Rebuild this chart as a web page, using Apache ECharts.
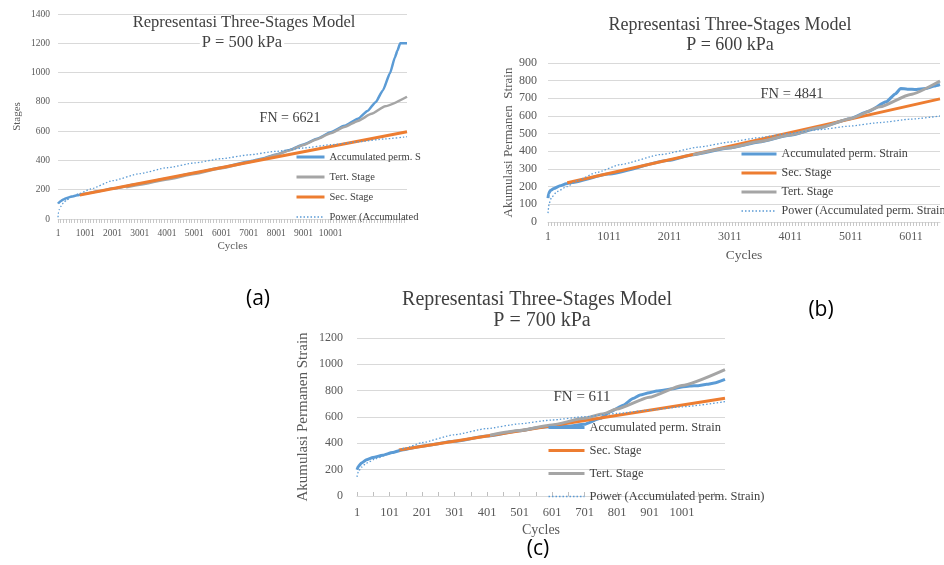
<!DOCTYPE html>
<html><head><meta charset="utf-8">
<script src="https://cdn.jsdelivr.net/npm/echarts@6/dist/echarts.min.js"></script>
<style>html,body{margin:0;padding:0;background:#fff}#c{width:944px;height:565px}</style>
</head><body><div id="c"></div>
<script>
// ---------- names ----------
const NAME_ACC = 'Accumulated perm. Strain';
const NAME_SEC = 'Sec. Stage';
const NAME_TERT = 'Tert. Stage';
const NAME_POW = 'Power (Accumulated perm. Strain)';

// ---------- chart (a) P = 500 kPa ----------
const xLabelsA = [1, 1001, 2001, 3001, 4001, 5001, 6001, 7001, 8001, 9001, 10001];
const yTicksA = [0, 200, 400, 600, 800, 1000, 1200, 1400];
const accA = [[1,105],[50,115],[100,122],[200,133],[300,142],[500,153],[700,162],[900,170],[1500,190],[2000,208],[3000,240],[4000,276],[5000,314],[6000,352],[7000,392],[7500,413],[8000,440],[8500,472],[9000,508],[9500,548],[10000,592],[10500,636],[11000,685],[11350,738],[11650,798],[11920,880],[12175,995],[12360,1105],[12450,1150],[12550,1200],[12800,1200]];
const tertA = [[2500,216],[3000,234],[4000,270],[5000,307],[6000,347],[7000,388],[7500,410],[8000,438],[8500,470],[9000,506],[9500,545],[10000,586],[10500,628],[11000,670],[11500,718],[12000,770],[12800,835]];
const secA = [[800,164],[12800,596]];
const powA = [[1,12],[20,45],[50,65],[100,85],[200,110],[320,130],[500,150],[800,175],[1200,205],[2000,262],[3000,310],[4000,350],[5000,383],[6000,412],[7000,438],[8000,462],[9000,485],[10000,507],[11000,527],[12000,547],[12800,562]];

// ---------- chart (b) P = 600 kPa ----------
const xLabelsB = [1, 1011, 2011, 3011, 4011, 5011, 6011];
const yTicksB = [0, 100, 200, 300, 400, 500, 600, 700, 800, 900];
const accB = [[1,135],[10,160],[40,178],[100,190],[200,205],[300,216],[400,224],[1000,271],[2000,349],[2400,381],[3000,419],[3500,453],[4000,491],[4500,534],[5000,585],[5300,625],[5600,680],[5750,725],[5840,756],[5950,752],[6100,750],[6250,755],[6400,770],[6490,778]];
const secB = [[320,222],[6490,697]];
const tertB = [[2400,380],[3000,420],[3500,455],[4000,493],[4500,535],[5000,585],[5500,652],[6000,722],[6490,798]];
const powB = [[1,50],[20,105],[60,140],[150,172],[312,200],[500,237],[800,280],[1200,325],[1870,382],[2500,424],[3000,452],[3500,478],[4000,502],[4500,523],[5000,543],[5500,563],[6000,582],[6490,600]];

// ---------- chart (c) P = 700 kPa ----------
const xLabelsC = [1, 101, 201, 301, 401, 501, 601, 701, 801, 901, 1001];
const yTicksC = [0, 200, 400, 600, 800, 1000, 1200];
const accC = [[1,200],[5,225],[15,250],[30,275],[50,292],[80,310],[110,330],[140,350],[200,378],[300,415],[400,455],[500,495],[560,520],[600,528],[650,530],[700,545],[750,590],[780,640],[820,690],[850,740],[872,767],[900,785],[923,797],[974,815],[1000,828],[1025,835],[1050,838],[1077,848],[1100,858],[1133,885]];
const secC = [[130,350],[1133,742]];
const tertC = [[410,462],[500,497],[600,540],[700,590],[760,625],[800,660],[900,750],[1000,840],[1133,960]];
const powC = [[1,145],[5,185],[15,220],[30,250],[60,285],[100,320],[150,365],[200,405],[300,465],[400,512],[500,548],[600,577],[700,602],[800,627],[900,652],[1000,677],[1133,716]];

// ---------- styles ----------
const BLUE = '#5b9bd5', ORANGE = '#ed7d31', GRAY = '#a5a5a5', DOT = '#5b9bd5';
const SERIF = '"Liberation Serif", "DejaVu Serif", serif';
const TXT = '#595959';
const plain = v => String(v);

function hatch(max, step) { const a = []; for (let v = 1; v <= max; v += step) a.push(v); return a; }

function xAxisDef(gi, max, labels, hatchStep, fs, margin, nameGap, nameFs, tickStyle) {
  return {
    type: 'value', gridIndex: gi, min: 1, max: max,
    name: 'Cycles', nameLocation: 'middle', nameGap: nameGap,
    nameTextStyle: { fontFamily: SERIF, fontSize: nameFs, color: TXT },
    axisLine: { show: true, lineStyle: { color: '#d9d9d9', width: 1 } },
    axisTick: Object.assign({ show: true, customValues: hatch(max, hatchStep) }, tickStyle),
    axisLabel: { customValues: labels, formatter: plain, fontFamily: SERIF, fontSize: fs, color: TXT, margin: margin },
    splitLine: { show: false }
  };
}
function yAxisDef(gi, ticks, name, fs, margin, nameGap, nameFs) {
  return {
    type: 'value', gridIndex: gi, min: ticks[0], max: ticks[ticks.length - 1], interval: ticks[1] - ticks[0],
    name: name, nameLocation: 'middle', nameGap: nameGap,
    nameTextStyle: { fontFamily: SERIF, fontSize: nameFs, color: TXT },
    axisLine: { show: false }, axisTick: { show: false },
    axisLabel: { formatter: plain, fontFamily: SERIF, fontSize: fs, color: TXT, margin: margin },
    splitLine: { show: true, lineStyle: { color: '#d9d9d9', width: 1 } }
  };
}
function line(name, gi, data, color, width, dotted) {
  return {
    type: 'line', name: name, xAxisIndex: gi, yAxisIndex: gi, data: data,
    showSymbol: false, symbol: 'none', smooth: 0.18, smoothMonotone: 'x',
    lineStyle: { color: color, width: width, type: dotted ? [1.5, 2] : 'solid' },
    itemStyle: { color: color }, animation: false, silent: true
  };
}
function legendDef(order, left, top, fs, iw, gap, lh, textWidth) {
  const ts = { fontFamily: SERIF, fontSize: fs, color: '#404040', lineHeight: lh };
  if (textWidth) { ts.width = textWidth; ts.overflow = 'truncate'; ts.ellipsis = ''; }
  return {
    orient: 'vertical', left: left, top: top, selectedMode: false,
    data: order.map(n => ({ name: n, lineStyle: { width: n === NAME_POW ? 1.3 : 3 } })),
    itemWidth: iw, itemHeight: 8, itemGap: gap, textStyle: ts, padding: 0,
    itemStyle: { opacity: 0 }
  };
}
function txt(text, x, y, size, fam, color, bg) {
  const st = { text: text, fontSize: size, fontFamily: fam || SERIF, fill: color || '#404040',
      align: 'center', verticalAlign: 'middle', textAlign: 'center', textVerticalAlign: 'middle' };
  if (bg) { st.backgroundColor = '#ffffff'; st.padding = [0, 2]; }
  return { type: 'text', x: x, y: y, silent: true, z: 100, style: st };
}

const chart = echarts.init(document.getElementById('c'), null, { renderer: 'canvas' });
chart.setOption({
  backgroundColor: '#ffffff',
  animation: false,
  grid: [
    { left: 58, top: 14, width: 349, height: 205 },
    { left: 548, top: 63, width: 392, height: 159 },
    { left: 357, top: 338, width: 368, height: 158 }
  ],
  xAxis: [
    xAxisDef(0, 12800, xLabelsA, 100, 9.5, 9, 22, 11, { length: 4, lineStyle: { color: '#c8c8c8' } }),
    xAxisDef(1, 6490, xLabelsB, 50, 12, 9, 26, 13.5, { length: 4, lineStyle: { color: '#c8c8c8' } }),
    xAxisDef(2, 1133, xLabelsC, 50, 12.5, 10, 27, 14, { length: 4, inside: true, lineStyle: { color: '#bfbfbf' } })
  ],
  yAxis: [
    yAxisDef(0, yTicksA, 'Stages', 9.5, 8, 35, 11),
    yAxisDef(1, yTicksB, 'Akumulasi Permanen  Strain', 12, 11, 33, 13),
    yAxisDef(2, yTicksC, 'Akumulasi Permanen Strain', 12, 14, 46, 15)
  ],
  legend: [
    legendDef([NAME_ACC, NAME_TERT, NAME_SEC, NAME_POW], 295, 150, 10.5, 28, 6, 14, 93),
    legendDef([NAME_ACC, NAME_SEC, NAME_TERT, NAME_POW], 740, 147, 12, 35, 5, 14),
    legendDef([NAME_ACC, NAME_SEC, NAME_TERT, NAME_POW], 547, 420, 12.5, 36, 8, 15)
  ],
  series: [
    line(NAME_ACC, 0, accA, BLUE, 2.5),
    line(NAME_TERT, 0, tertA, GRAY, 2.5),
    line(NAME_SEC, 0, secA, ORANGE, 3),
    line(NAME_POW, 0, powA, DOT, 1.3, true),
    line(NAME_ACC, 1, accB, BLUE, 3),
    line(NAME_SEC, 1, secB, ORANGE, 3),
    line(NAME_TERT, 1, tertB, GRAY, 3),
    line(NAME_POW, 1, powB, DOT, 1.3, true),
    line(NAME_ACC, 2, accC, BLUE, 3),
    line(NAME_SEC, 2, secC, ORANGE, 3),
    line(NAME_TERT, 2, tertC, GRAY, 3),
    line(NAME_POW, 2, powC, DOT, 1.3, true)
  ],
  graphic: [
    txt('Representasi Three-Stages Model', 244, 23, 16.5),
    txt('P = 500 kPa', 242, 43, 16.5, null, null, true),
    txt('FN = 6621', 290, 118, 14),
    txt('Representasi Three-Stages Model', 730, 25, 18),
    txt('P = 600 kPa', 730, 45, 18),
    txt('FN = 4841', 792, 94, 14.5),
    txt('Representasi Three-Stages Model', 537, 300, 20),
    txt('P = 700 kPa', 542, 321, 20),
    txt('FN = 611', 582, 397, 15),
    txt('(a)', 258, 299, 21, '"Open Sans", "Noto Sans", sans-serif', '#000000'),
    txt('(b)', 821, 310, 21, '"Open Sans", "Noto Sans", sans-serif', '#000000'),
    txt('(c)', 538, 549, 21, '"Open Sans", "Noto Sans", sans-serif', '#000000')
  ]
});
</script>
</body></html>
